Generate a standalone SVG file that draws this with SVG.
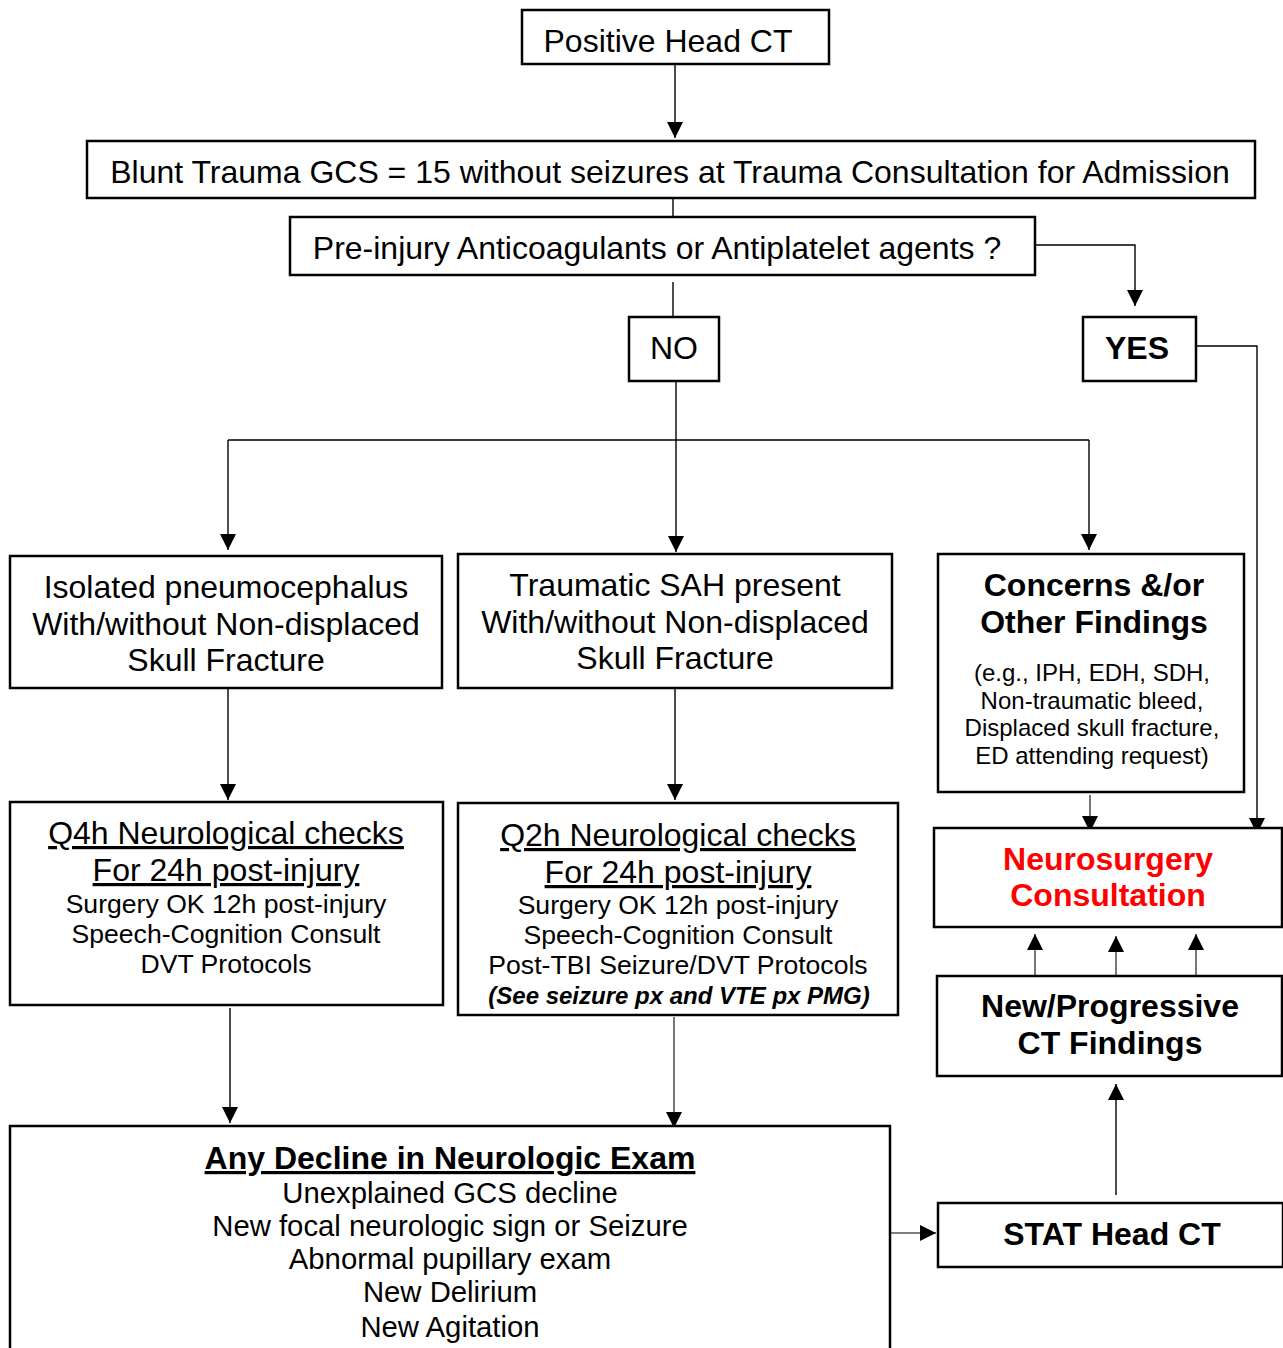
<svg xmlns="http://www.w3.org/2000/svg" width="1283" height="1348" viewBox="0 0 1283 1348">
<style>
.box{fill:#fff;stroke:#000;stroke-width:2.5}
.t{font-family:"Liberation Sans",Arial,sans-serif;fill:#000;text-anchor:middle}
.L{font-size:32px}
.P{font-size:29.3px}
.M{font-size:26.6px}
.S{font-size:24px}
.I{font-size:24px;font-weight:bold;font-style:italic}
.B{font-weight:bold}
.red{fill:#f00}
.u{text-decoration:underline}
.c{fill:none;stroke:#000;stroke-width:1.4}
.g{fill:none;stroke:#555;stroke-width:1.6}
</style>
<defs>
<marker id="a" markerUnits="userSpaceOnUse" markerWidth="16" markerHeight="16" viewBox="0 0 16 16" refX="16" refY="8" orient="auto">
<path d="M0,0 L16,8 L0,16 Z" fill="#000"/>
</marker>
</defs>
<g id="connectors">
<path class="c" d="M675,64 V138" marker-end="url(#a)"/>
<path class="c" d="M673,198 V218"/>
<path class="c" d="M1035,245 H1135 V306" marker-end="url(#a)"/>
<path class="c" d="M673,282 V316"/>
<path class="c" d="M676,381 V552" marker-end="url(#a)"/>
<path class="c" d="M228,440 H1089"/>
<path class="c" d="M228,440 V550" marker-end="url(#a)"/>
<path class="c" d="M1089,440 V550" marker-end="url(#a)"/>
<path class="c" d="M1196,346 H1257 V834" marker-end="url(#a)"/>
<path class="c" d="M228,688 V800" marker-end="url(#a)"/>
<path class="c" d="M675,688 V800" marker-end="url(#a)"/>
<path class="g" d="M1090,795 V832" marker-end="url(#a)"/>
<path class="g" d="M1035,976 V934" marker-end="url(#a)"/>
<path class="g" d="M1116,976 V936" marker-end="url(#a)"/>
<path class="g" d="M1196,976 V934" marker-end="url(#a)"/>
<path class="c" d="M1116,1195 V1084" marker-end="url(#a)"/>
<path class="c" d="M230,1008 V1123" marker-end="url(#a)"/>
<path class="g" d="M674,1017 V1128" marker-end="url(#a)"/>
<path class="g" d="M890,1233 H936" marker-end="url(#a)"/>
</g>
<g id="n1"><rect class="box" x="522" y="10" width="307" height="54"/><text class="t L" x="668" y="52">Positive Head CT</text></g>
<g id="n2"><rect class="box" x="87" y="141" width="1168" height="57"/><text class="t L" x="670" y="183">Blunt Trauma GCS = 15 without seizures at Trauma Consultation for Admission</text></g>
<g id="n3"><rect class="box" x="290" y="217" width="745" height="58"/><text class="t L" x="657" y="259">Pre-injury Anticoagulants or Antiplatelet agents ?</text></g>
<g id="no"><rect class="box" x="629" y="317" width="90" height="64"/><text class="t L" x="674" y="359">NO</text></g>
<g id="yes"><rect class="box" x="1083" y="317" width="113" height="64"/><text class="t L B" x="1137" y="359">YES</text></g>
<g id="n4"><rect class="box" x="10" y="556" width="432" height="132"/>
<text class="t L" x="226" y="598">Isolated pneumocephalus</text>
<text class="t L" x="226" y="635">With/without Non-displaced</text>
<text class="t L" x="226" y="671">Skull Fracture</text></g>
<g id="n5"><rect class="box" x="458" y="554" width="434" height="134"/>
<text class="t L" x="675" y="596">Traumatic SAH present</text>
<text class="t L" x="675" y="633">With/without Non-displaced</text>
<text class="t L" x="675" y="669">Skull Fracture</text></g>
<g id="n6"><rect class="box" x="938" y="554" width="306" height="238"/>
<text class="t L B" x="1094" y="596">Concerns &amp;/or</text>
<text class="t L B" x="1094" y="633">Other Findings</text>
<text class="t S" x="1092" y="681">(e.g., IPH, EDH, SDH,</text>
<text class="t S" x="1092" y="709">Non-traumatic bleed,</text>
<text class="t S" x="1092" y="736">Displaced skull fracture,</text>
<text class="t S" x="1092" y="764">ED attending request)</text></g>
<g id="n7"><rect class="box" x="10" y="802" width="433" height="203"/>
<text class="t L u" x="226" y="844">Q4h Neurological checks</text>
<text class="t L u" x="226" y="881">For 24h post-injury</text>
<text class="t M" x="226" y="913">Surgery OK 12h post-injury</text>
<text class="t M" x="226" y="943">Speech-Cognition Consult</text>
<text class="t M" x="226" y="973">DVT Protocols</text></g>
<g id="n8"><rect class="box" x="458" y="803" width="440" height="212"/>
<text class="t L u" x="678" y="846">Q2h Neurological checks</text>
<text class="t L u" x="678" y="883">For 24h post-injury</text>
<text class="t M" x="678" y="914">Surgery OK 12h post-injury</text>
<text class="t M" x="678" y="944">Speech-Cognition Consult</text>
<text class="t M" x="678" y="974">Post-TBI Seizure/DVT Protocols</text>
<text class="t I" x="679" y="1004">(See seizure px and VTE px PMG)</text></g>
<g id="n9"><rect class="box" x="934" y="828" width="348" height="99"/>
<text class="t L B red" x="1108" y="870">Neurosurgery</text>
<text class="t L B red" x="1108" y="906">Consultation</text></g>
<g id="n10"><rect class="box" x="937" y="976" width="345" height="100"/>
<text class="t L B" x="1110" y="1017">New/Progressive</text>
<text class="t L B" x="1110" y="1054">CT Findings</text></g>
<g id="n11"><rect class="box" x="938" y="1203" width="345" height="64"/>
<text class="t L B" x="1112" y="1245">STAT Head CT</text></g>
<g id="n12"><rect class="box" x="10" y="1126" width="880" height="240"/>
<text class="t L B u" x="450" y="1169">Any Decline in Neurologic Exam</text>
<text class="t P" x="450" y="1203">Unexplained GCS decline</text>
<text class="t P" x="450" y="1236">New focal neurologic sign or Seizure</text>
<text class="t P" x="450" y="1269">Abnormal pupillary exam</text>
<text class="t P" x="450" y="1302">New Delirium</text>
<text class="t P" x="450" y="1337">New Agitation</text></g>
</svg>
